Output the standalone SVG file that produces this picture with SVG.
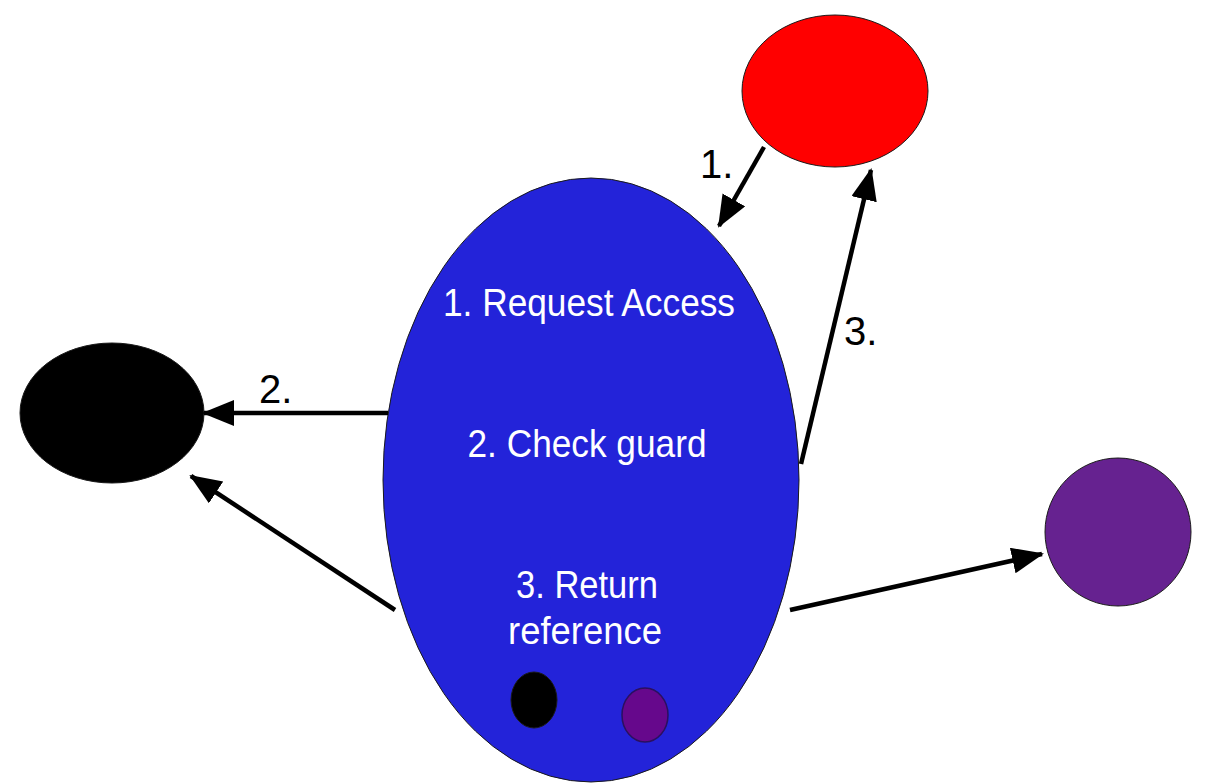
<svg xmlns="http://www.w3.org/2000/svg" width="1218" height="784" viewBox="0 0 1218 784">
<style>
.node{stroke:#1a1a1a;stroke-width:1}
.conn line{stroke:#000;stroke-width:4.5;marker-end:url(#ah)}
.in{fill:#fff;font-family:"Liberation Sans",Arial,sans-serif;font-size:39px;text-anchor:middle}
.lbl{fill:#000;font-family:"Liberation Sans",Arial,sans-serif;font-size:40px}
</style>
<defs>
<marker id="ah" markerUnits="userSpaceOnUse" markerWidth="34" markerHeight="28" refX="30" refY="13" orient="auto" viewBox="0 0 34 28">
<path d="M0,0 L32,13 L0,26 z" fill="#000"/>
</marker>
</defs>
<rect width="1218" height="784" fill="#fff"/>
<g id="red-node"><ellipse class="node" cx="835" cy="91" rx="93" ry="76" fill="#ff0000"/></g>
<g id="black-node"><ellipse class="node" cx="112" cy="413" rx="92" ry="70" fill="#000"/></g>
<g id="purple-node"><ellipse class="node" cx="1118" cy="532" rx="73" ry="74" fill="#662290"/></g>
<g id="guard-node">
<ellipse class="node" cx="591" cy="480" rx="208" ry="302" fill="#2323d9"/>
<text class="in" x="589" y="316" textLength="292" lengthAdjust="spacingAndGlyphs">1. Request Access</text>
<text class="in" x="587" y="457" textLength="239" lengthAdjust="spacingAndGlyphs">2. Check guard</text>
<text class="in" x="587" y="598" textLength="142" lengthAdjust="spacingAndGlyphs">3. Return</text>
<text class="in" x="585" y="644" textLength="154" lengthAdjust="spacingAndGlyphs">reference</text>
</g>
<g id="small-black"><ellipse class="node" cx="534" cy="700" rx="23" ry="28" fill="#000"/></g>
<g id="small-purple"><ellipse cx="645" cy="715" rx="23" ry="27" fill="#66088c" stroke="#2a1060" stroke-width="1.5"/></g>
<g id="connectors" class="conn">
<line x1="764" y1="147" x2="719" y2="226"/>
<line x1="801" y1="464" x2="871" y2="170"/>
<line x1="388" y1="413" x2="204" y2="413"/>
<line x1="395" y1="610" x2="191" y2="476"/>
<line x1="790" y1="610" x2="1042" y2="554"/>
</g>
<g id="labels">
<text class="lbl" x="700" y="178">1.</text>
<text class="lbl" x="259" y="403">2.</text>
<text class="lbl" x="844" y="345">3.</text>
</g>
</svg>
